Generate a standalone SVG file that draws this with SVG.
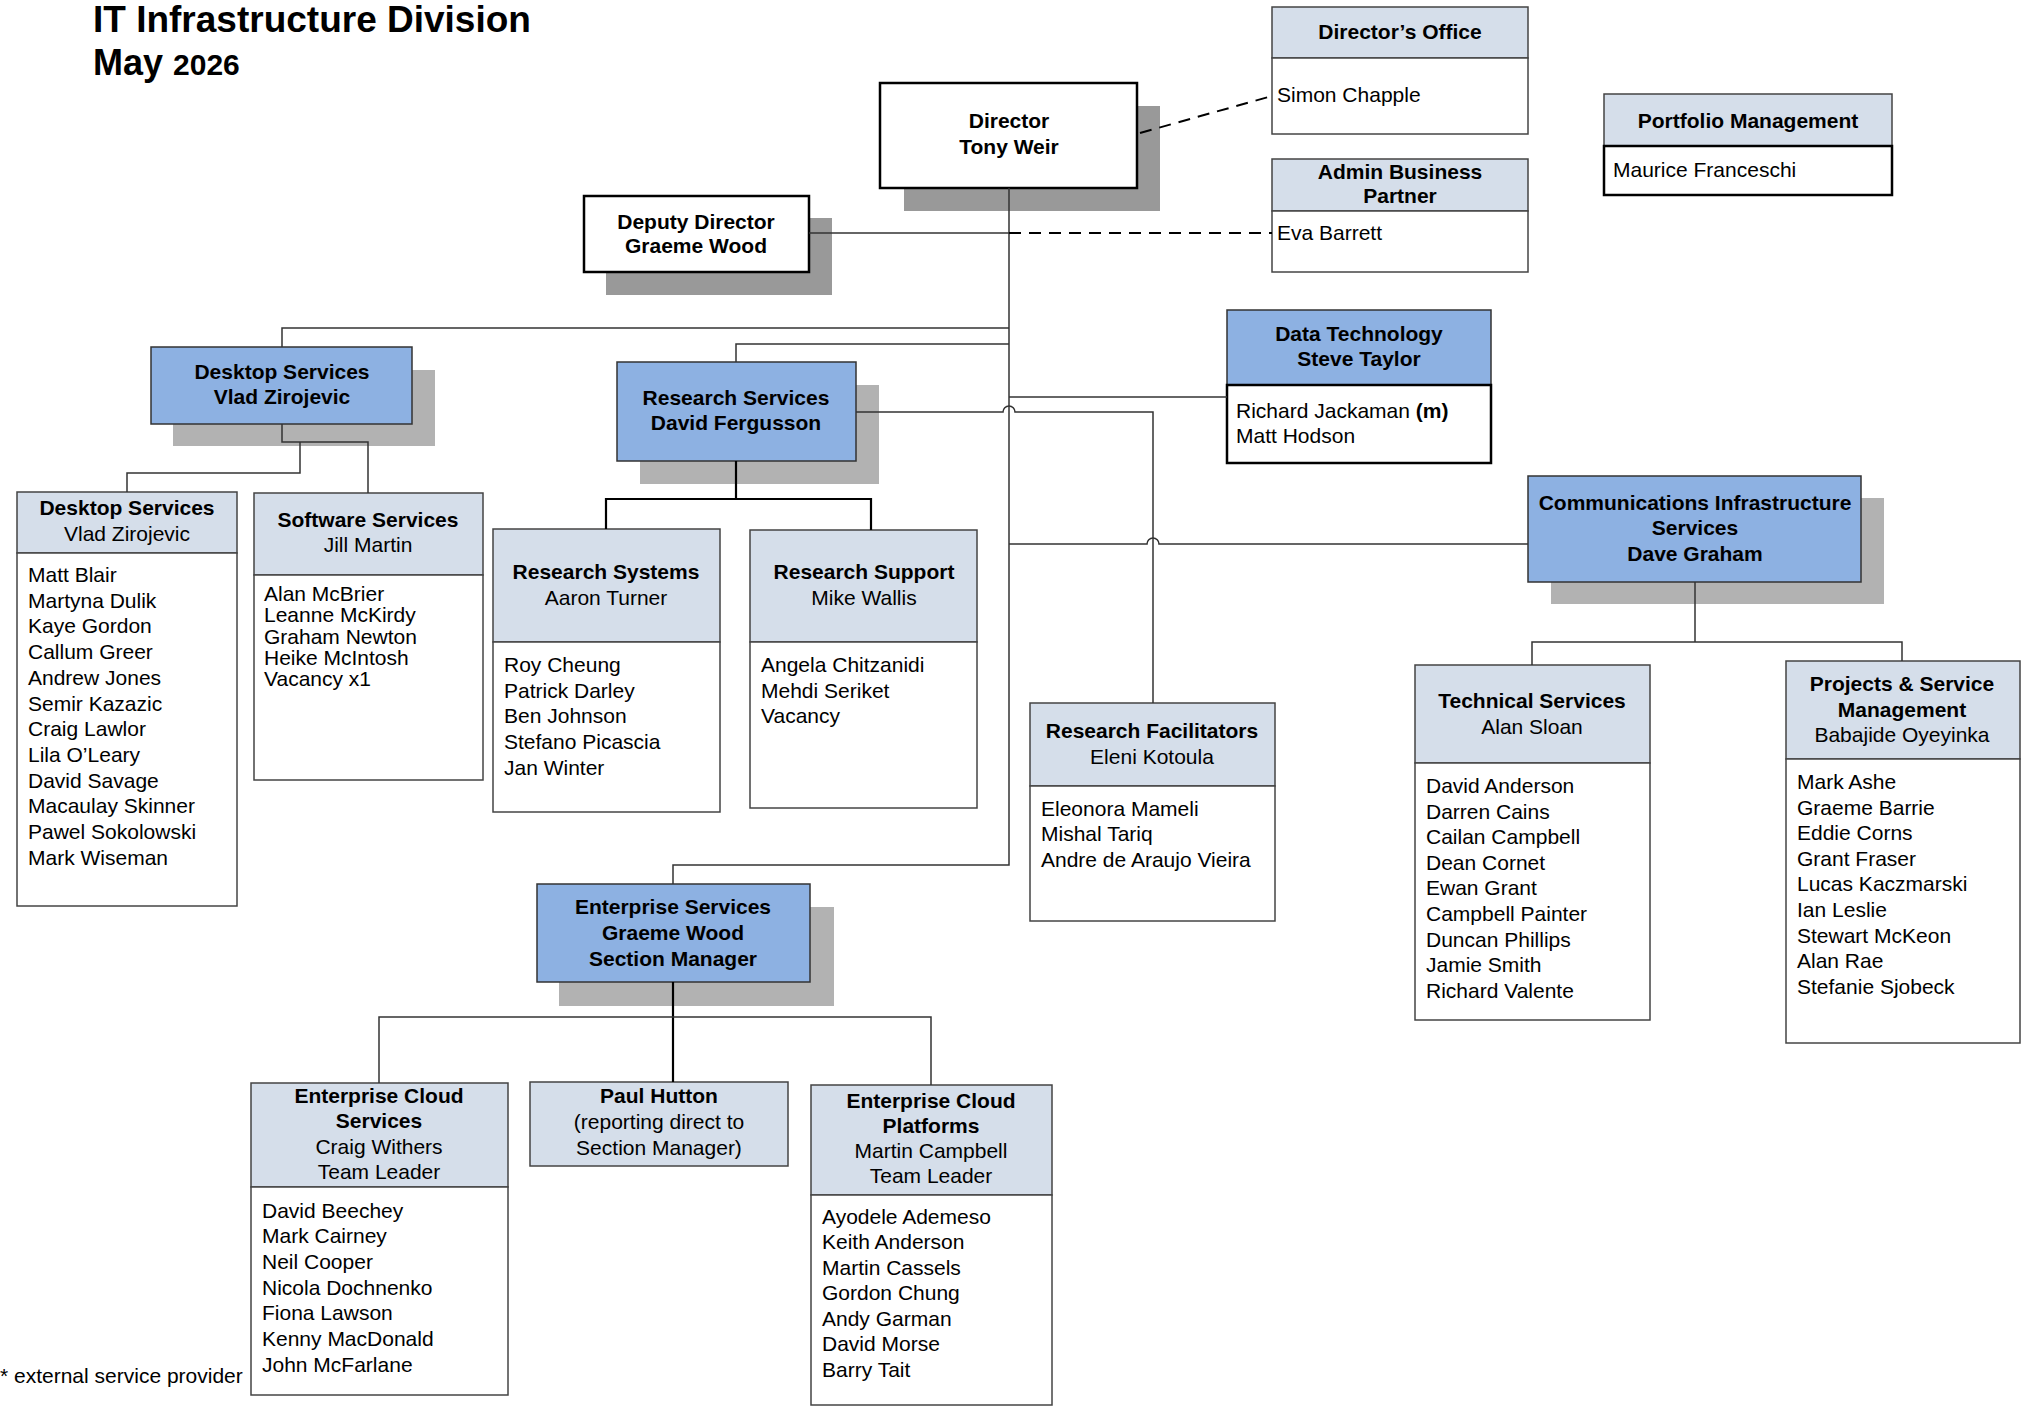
<svg xmlns="http://www.w3.org/2000/svg" width="2033" height="1413" viewBox="0 0 2033 1413">
<style>
text{font-family:"Liberation Sans",Arial,sans-serif;font-size:21px;fill:#000}
.b{font-weight:bold}
.c{text-anchor:middle}
.hdr{fill:#D5DEEA;stroke:#444;stroke-width:1.5}
.blue{fill:#8DB1E2;stroke:#333;stroke-width:1.5}
.body{fill:#fff;stroke:#444;stroke-width:1.5}
.bodyk{fill:#fff;stroke:#000;stroke-width:2.5}
.wk{fill:#fff;stroke:#000;stroke-width:2.5}
.sh{fill:#B2B2B2}
.shd{fill:#999}
.conn{fill:none;stroke:#333;stroke-width:1.5}
.connk{fill:none;stroke:#000;stroke-width:2.2}
.dash{fill:none;stroke:#000;stroke-width:2;stroke-dasharray:12,8}
</style>
<rect width="2033" height="1413" fill="#fff"/>
<g id="title">
<text x="93" y="32" class="b" style="font-size:37px">IT Infrastructure Division</text>
<text x="93" y="75" class="b" style="font-size:36px">May <tspan style="font-size:30px">2026</tspan></text>
</g>
<g id="director">
<rect class="shd" x="904" y="106" width="256" height="105"/>
<rect class="wk" x="880" y="83" width="257" height="105"/>
<text x="1009" y="128" class="b c">Director</text>
<text x="1009" y="154" class="b c">Tony Weir</text>
</g>
<g id="deputy">
<rect class="shd" x="606" y="218" width="226" height="77"/>
<rect class="wk" x="584" y="196" width="225" height="76"/>
<text x="696" y="229" class="b c">Deputy Director</text>
<text x="696" y="253" class="b c">Graeme Wood</text>
</g>
<g id="directors-office">
<rect class="hdr" x="1272" y="7" width="256" height="51"/>
<rect class="body" x="1272" y="58" width="256" height="76"/>
<text x="1400" y="39" class="b c">Director’s Office</text>
<text x="1277" y="102">Simon Chapple</text>
</g>
<g id="admin">
<rect class="hdr" x="1272" y="159" width="256" height="52"/>
<rect class="body" x="1272" y="211" width="256" height="61"/>
<text x="1400" y="179" class="b c">Admin Business</text>
<text x="1400" y="203" class="b c">Partner</text>
<text x="1277" y="240">Eva Barrett</text>
</g>
<g id="portfolio">
<rect class="hdr" x="1604" y="94" width="288" height="52"/>
<rect class="bodyk" x="1604" y="146" width="288" height="49"/>
<text x="1748" y="128" class="b c">Portfolio Management</text>
<text x="1613" y="177">Maurice Franceschi</text>
</g>
<g id="desktop">
<rect class="sh" x="173" y="370" width="262" height="76"/>
<rect class="blue" x="151" y="347" width="261" height="77"/>
<text x="282" y="379" class="b c">Desktop Services</text>
<text x="282" y="404" class="b c">Vlad Zirojevic</text>
</g>
<g id="desktop-team">
<rect class="hdr" x="17" y="492" width="220" height="61"/>
<rect class="body" x="17" y="553" width="220" height="353"/>
<text x="127" y="515" class="b c">Desktop Services</text>
<text x="127" y="541" class="c">Vlad Zirojevic</text>
<text x="28" y="582">Matt Blair<tspan x="28" dy="25.7">Martyna Dulik</tspan><tspan x="28" dy="25.7">Kaye Gordon</tspan><tspan x="28" dy="25.7">Callum Greer</tspan><tspan x="28" dy="25.7">Andrew Jones</tspan><tspan x="28" dy="25.7">Semir Kazazic</tspan><tspan x="28" dy="25.7">Craig Lawlor</tspan><tspan x="28" dy="25.7">Lila O’Leary</tspan><tspan x="28" dy="25.7">David Savage</tspan><tspan x="28" dy="25.7">Macaulay Skinner</tspan><tspan x="28" dy="25.7">Pawel Sokolowski</tspan><tspan x="28" dy="25.7">Mark Wiseman</tspan></text>
</g>
<g id="software">
<rect class="hdr" x="254" y="493" width="229" height="82"/>
<rect class="body" x="254" y="575" width="229" height="205"/>
<text x="368" y="527" class="b c">Software Services</text>
<text x="368" y="552" class="c">Jill Martin</text>
<text x="264" y="601">Alan McBrier<tspan x="264" dy="21.25">Leanne McKirdy</tspan><tspan x="264" dy="21.25">Graham Newton</tspan><tspan x="264" dy="21.25">Heike McIntosh</tspan><tspan x="264" dy="21.25">Vacancy x1</tspan></text>
</g>
<g id="research">
<rect class="sh" x="640" y="385" width="239" height="99"/>
<rect class="blue" x="617" y="362" width="239" height="99"/>
<text x="736" y="405" class="b c">Research Services</text>
<text x="736" y="430" class="b c">David Fergusson</text>
</g>
<g id="research-systems">
<rect class="hdr" x="493" y="529" width="227" height="113"/>
<rect class="body" x="493" y="642" width="227" height="170"/>
<text x="606" y="579" class="b c">Research Systems</text>
<text x="606" y="605" class="c">Aaron Turner</text>
<text x="504" y="672">Roy Cheung<tspan x="504" dy="25.7">Patrick Darley</tspan><tspan x="504" dy="25.7">Ben Johnson</tspan><tspan x="504" dy="25.7">Stefano Picascia</tspan><tspan x="504" dy="25.7">Jan Winter</tspan></text>
</g>
<g id="research-support">
<rect class="hdr" x="750" y="530" width="227" height="112"/>
<rect class="body" x="750" y="642" width="227" height="166"/>
<text x="864" y="579" class="b c">Research Support</text>
<text x="864" y="605" class="c">Mike Wallis</text>
<text x="761" y="672">Angela Chitzanidi<tspan x="761" dy="25.7">Mehdi Seriket</tspan><tspan x="761" dy="25.7">Vacancy</tspan></text>
</g>
<g id="research-facilitators">
<rect class="hdr" x="1030" y="703" width="245" height="83"/>
<rect class="body" x="1030" y="786" width="245" height="135"/>
<text x="1152" y="738" class="b c">Research Facilitators</text>
<text x="1152" y="764" class="c">Eleni Kotoula</text>
<text x="1041" y="815.5">Eleonora Mameli<tspan x="1041" dy="25.7">Mishal Tariq</tspan><tspan x="1041" dy="25.7">Andre de Araujo Vieira</tspan></text>
</g>
<g id="data-technology">
<rect class="blue" x="1227" y="310" width="264" height="75"/>
<rect class="bodyk" x="1227" y="385" width="264" height="78"/>
<text x="1359" y="341" class="b c">Data Technology</text>
<text x="1359" y="366" class="b c">Steve Taylor</text>
<text x="1236" y="418">Richard Jackaman <tspan class="b">(m)</tspan></text>
<text x="1236" y="443">Matt Hodson</text>
</g>
<g id="comms">
<rect class="sh" x="1551" y="498" width="333" height="106"/>
<rect class="blue" x="1528" y="476" width="333" height="106"/>
<text x="1695" y="510" class="b c">Communications Infrastructure</text>
<text x="1695" y="535" class="b c">Services</text>
<text x="1695" y="561" class="b c">Dave Graham</text>
</g>
<g id="technical">
<rect class="hdr" x="1415" y="665" width="235" height="98"/>
<rect class="body" x="1415" y="763" width="235" height="257"/>
<text x="1532" y="708" class="b c">Technical Services</text>
<text x="1532" y="734" class="c">Alan Sloan</text>
<text x="1426" y="793">David Anderson<tspan x="1426" dy="25.6">Darren Cains</tspan><tspan x="1426" dy="25.6">Cailan Campbell</tspan><tspan x="1426" dy="25.6">Dean Cornet</tspan><tspan x="1426" dy="25.6">Ewan Grant</tspan><tspan x="1426" dy="25.6">Campbell Painter</tspan><tspan x="1426" dy="25.6">Duncan Phillips</tspan><tspan x="1426" dy="25.6">Jamie Smith</tspan><tspan x="1426" dy="25.6">Richard Valente</tspan></text>
</g>
<g id="projects">
<rect class="hdr" x="1786" y="661" width="234" height="98"/>
<rect class="body" x="1786" y="759" width="234" height="284"/>
<text x="1902" y="691" class="b c">Projects &amp; Service</text>
<text x="1902" y="717" class="b c">Management</text>
<text x="1902" y="742" class="c">Babajide Oyeyinka</text>
<text x="1797" y="789">Mark Ashe<tspan x="1797" dy="25.6">Graeme Barrie</tspan><tspan x="1797" dy="25.6">Eddie Corns</tspan><tspan x="1797" dy="25.6">Grant Fraser</tspan><tspan x="1797" dy="25.6">Lucas Kaczmarski</tspan><tspan x="1797" dy="25.6">Ian Leslie</tspan><tspan x="1797" dy="25.6">Stewart McKeon</tspan><tspan x="1797" dy="25.6">Alan Rae</tspan><tspan x="1797" dy="25.6">Stefanie Sjobeck</tspan></text>
</g>
<g id="enterprise">
<rect class="sh" x="559" y="907" width="275" height="99"/>
<rect class="blue" x="537" y="884" width="273" height="98"/>
<text x="673" y="914" class="b c">Enterprise Services</text>
<text x="673" y="940" class="b c">Graeme Wood</text>
<text x="673" y="966" class="b c">Section Manager</text>
</g>
<g id="enterprise-cloud-services">
<rect class="hdr" x="251" y="1083" width="257" height="104"/>
<rect class="body" x="251" y="1187" width="257" height="208"/>
<text x="379" y="1103" class="b c">Enterprise Cloud</text>
<text x="379" y="1128" class="b c">Services</text>
<text x="379" y="1154" class="c">Craig Withers</text>
<text x="379" y="1179" class="c">Team Leader</text>
<text x="262" y="1217.5">David Beechey<tspan x="262" dy="25.67">Mark Cairney</tspan><tspan x="262" dy="25.67">Neil Cooper</tspan><tspan x="262" dy="25.67">Nicola Dochnenko</tspan><tspan x="262" dy="25.67">Fiona Lawson</tspan><tspan x="262" dy="25.67">Kenny MacDonald</tspan><tspan x="262" dy="25.67">John McFarlane</tspan></text>
</g>
<g id="paul-hutton">
<rect class="hdr" x="530" y="1082" width="258" height="84"/>
<text x="659" y="1103" class="b c">Paul Hutton</text>
<text x="659" y="1129" class="c">(reporting direct to</text>
<text x="659" y="1155" class="c">Section Manager)</text>
</g>
<g id="enterprise-cloud-platforms">
<rect class="hdr" x="811" y="1085" width="241" height="110"/>
<rect class="body" x="811" y="1195" width="241" height="210"/>
<text x="931" y="1108" class="b c">Enterprise Cloud</text>
<text x="931" y="1133" class="b c">Platforms</text>
<text x="931" y="1158" class="c">Martin Campbell</text>
<text x="931" y="1183" class="c">Team Leader</text>
<text x="822" y="1223.5">Ayodele Ademeso<tspan x="822" dy="25.5">Keith Anderson</tspan><tspan x="822" dy="25.5">Martin Cassels</tspan><tspan x="822" dy="25.5">Gordon Chung</tspan><tspan x="822" dy="25.5">Andy Garman</tspan><tspan x="822" dy="25.5">David Morse</tspan><tspan x="822" dy="25.5">Barry Tait</tspan></text>
</g>
<g id="footnote">
<text x="0" y="1383">* external service provider</text>
</g>
<g id="connectors">
<path class="conn" d="M1009,188 V865 H673 V884"/>
<path class="conn" d="M809,233 H1009"/>
<path class="dash" d="M1009,233 H1272"/>
<path class="dash" d="M1140,133 L1272,96"/>
<path class="conn" d="M1009,328 H282 V347"/>
<path class="conn" d="M1009,344 H736 V362"/>
<path class="conn" d="M282,424 V442 H368 V493"/>
<path class="conn" d="M300,442 V473 H127 V492"/>
<path class="connk" d="M736,461 V499"/>
<path class="connk" d="M606,529 V499 H871 V530"/>
<path class="conn" d="M856,412 H1003 A6,6 0 0 1 1015,412 H1153 V703"/>
<path class="conn" d="M1009,397 H1227"/>
<path class="conn" d="M1009,544 H1147 A6,6 0 0 1 1159,544 H1528"/>
<path class="conn" d="M1695,582 V642"/>
<path class="conn" d="M1532,665 V642 H1902 V661"/>
<path class="connk" d="M673,982 V1082"/>
<path class="conn" d="M379,1083 V1017 H931 V1085"/>
</g>
</svg>
